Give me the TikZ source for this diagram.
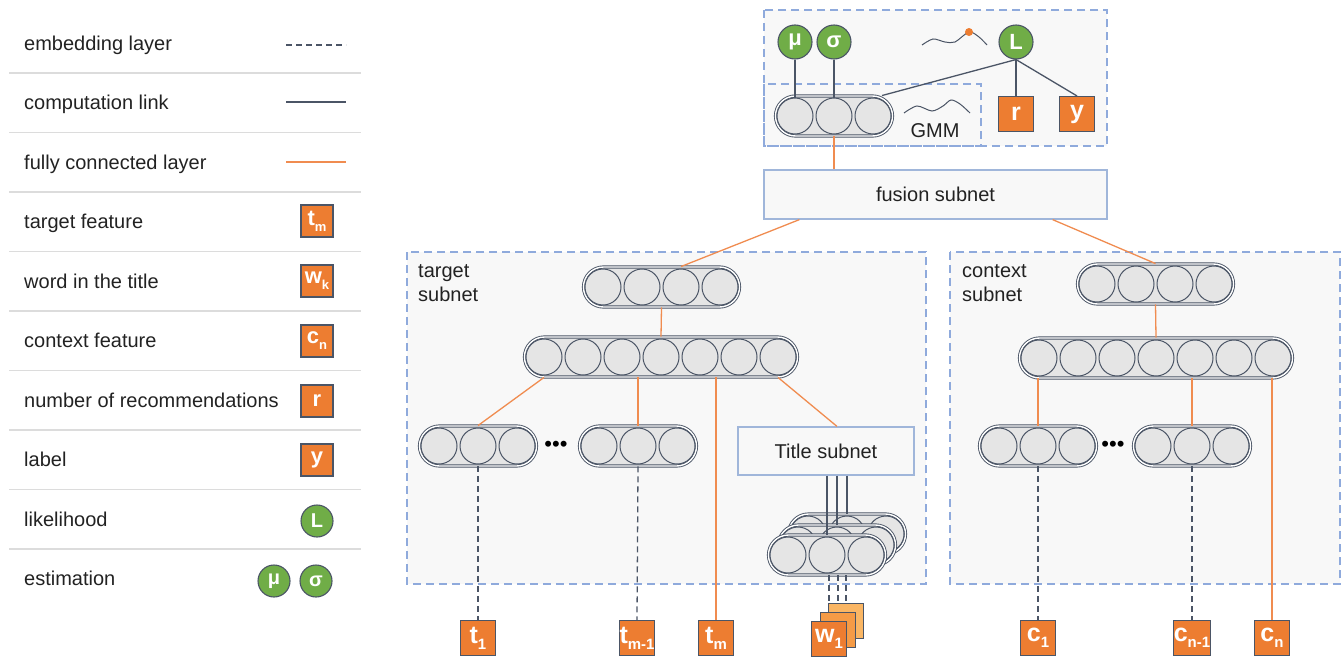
\documentclass[tikz,border=0pt]{standalone}
\usepackage{fontspec}
\setmainfont{Liberation Sans}

\definecolor{ink}{RGB}{75,85,102}
\definecolor{txt}{RGB}{34,34,34}
\definecolor{fcline}{RGB}{240,140,80}
\definecolor{orangef}{RGB}{237,125,49}
\definecolor{orangem}{RGB}{245,155,70}
\definecolor{orangeb}{RGB}{250,182,100}
\definecolor{greenf}{RGB}{112,173,71}
\definecolor{dashblue}{RGB}{143,170,220}
\definecolor{boxblue}{RGB}{160,182,218}
\definecolor{boxgray}{RGB}{248,248,248}
\definecolor{cellgray}{RGB}{229,229,229}
\definecolor{sepgray}{RGB}{220,220,220}

\tikzset{
  txtnode/.style={text=txt, font=\fontsize{20}{24}\selectfont, inner sep=0},
  region/.style={draw=dashblue, dash pattern=on 8pt off 5pt, fill=boxgray, line width=1.3pt},
  subbox/.style={rectangle, draw=boxblue, fill=boxgray, line width=1.2pt, text=txt,
    font=\fontsize{20}{24}\selectfont},
  layer/.style={rectangle, rounded corners=20pt, draw=ink, double=white,
    double distance=1.4pt, line width=0.9pt, fill=cellgray, minimum height=40pt, inner sep=0},
  unit/.style={circle, draw=ink, line width=1pt, fill=cellgray, minimum size=36pt, inner sep=0},
  feat/.style={rectangle, draw=ink, line width=1.1pt, fill=orangef, minimum size=35pt,
    inner sep=0, text=white, font=\bfseries\fontsize{25}{25}\selectfont},
  est/.style={circle, draw=ink, line width=1.1pt, fill=greenf, minimum size=34pt,
    inner sep=0, text=white, font=\bfseries\fontsize{22}{22}\selectfont},
  emb/.style={draw=ink, line width=1.3pt, dash pattern=on 6pt off 4pt},
  comp/.style={draw=ink, line width=1.3pt},
  fc/.style={draw=fcline, line width=1.3pt},
  dots/.style={text=black, font=\fontsize{22}{22}\selectfont, inner sep=0},
}

% square label: letter with lowered index
\newcommand{\feat}[3][15]{#2\raisebox{-6pt}{\fontsize{#1}{#1}\selectfont #3}}
% capsule of n units: name, n, x, y
\newcommand{\nnlayer}[4]{%
  \node[layer, minimum width={39*#2}] (#1) at (#3,#4) {};
  \foreach \i in {1,...,#2}
    \node[unit] (#1-\i) at ({#3+39*(\i-(#2+1)/2)},#4) {};
}

\begin{document}
\begin{tikzpicture}[x=1pt,y=-1pt]
        \useasboundingbox (0,0) rectangle (1341,656);

        % legend
        \foreach \k in {0,...,8}
            \draw[sepgray, line width=1.5pt] (9,{73+59.5*\k}) -- (361,{73+59.5*\k});

        \node[txtnode, anchor=base west] (lg1) at (24,50) {embedding layer};
        \node[txtnode, anchor=base west] (lg2) at (24,109.5) {computation link};
        \node[txtnode, anchor=base west] (lg3) at (24,169) {fully connected layer};
        \node[txtnode, anchor=base west] (lg4) at (24,228.5) {target feature};
        \node[txtnode, anchor=base west] (lg5) at (24,288) {word in the title};
        \node[txtnode, anchor=base west] (lg6) at (24,347.5) {context feature};
        \node[txtnode, anchor=base west] (lg7) at (24,407) {number of recommendations};
        \node[txtnode, anchor=base west] (lg8) at (24,466.5) {label};
        \node[txtnode, anchor=base west] (lg9) at (24,526) {likelihood};
        \node[txtnode, anchor=base west] (lg10) at (24,585.5) {estimation};

        \draw[emb] (286,45) -- (346,45);
        \draw[comp] (286,102) -- (346,102);
        \draw[fc] (286,162) -- (346,162);

        \node[feat, minimum size=32pt, font=\bfseries\fontsize{22}{22}\selectfont] (lgt) at (317,221) {\feat[13]{t}{m}};
        \node[feat, minimum size=32pt, font=\bfseries\fontsize{22}{22}\selectfont] (lgw) at (317,281) {\feat[13]{w}{k}};
        \node[feat, minimum size=32pt, font=\bfseries\fontsize{22}{22}\selectfont] (lgc) at (317,341) {\feat[13]{c}{n}};
        \node[feat, minimum size=32pt, font=\bfseries\fontsize{22}{22}\selectfont] (lgr) at (317,401) {r};
        \node[feat, minimum size=32pt, font=\bfseries\fontsize{22}{22}\selectfont] (lgy) at (317,460) {y};
        \node[est, minimum size=32pt, font=\bfseries\fontsize{20}{20}\selectfont] (lgL) at (317,521) {L};
        \node[est, minimum size=32pt, font=\bfseries\fontsize{20}{20}\selectfont] (lgmu) at (274,581) {μ};
        \node[est, minimum size=32pt, font=\bfseries\fontsize{20}{20}\selectfont] (lgsig) at (316,581) {σ};

        % regions
        \draw[region] (764,10) rectangle (1107,146);
        \draw[region, fill=none] (764,84) rectangle (981,146);
        \draw[region] (407,252) rectangle (926,584);
        \draw[region] (950,252) rectangle (1340,584);

        \node[txtnode, anchor=north west, align=left] (tlbl) at (418,264) {target\\subnet};
        \node[txtnode, anchor=north west, align=left] (clbl) at (962,264) {context\\subnet};

        % estimation part
        \node[est] (mu) at (795,42) {μ};
        \node[est] (sig) at (834,42) {σ};
        \node[est] (L) at (1016,42) {L};
        \node[feat] (r) at (1016,114) {r};
        \node[feat] (y) at (1077,114) {y};
        \node[txtnode, anchor=base] (gmmlbl) at (935,137) {GMM};

        \draw[ink, line width=1pt] plot[smooth] coordinates {(922,45) (933,39) (945,42) (955,42) (969,32) (979,37) (987,45)};
        \fill[orangef] (969,32) circle (4pt);
        \draw[ink, line width=1pt] plot[smooth] coordinates {(904,113) (917,106) (932,111) (943,106) (951,100) (960,104) (970,113)};

        \node[subbox, minimum width=343pt, minimum height=49pt] (fusion) at (935.5,194.5) {fusion subnet};
        \node[subbox, minimum width=176pt, minimum height=48pt] (title) at (826,451) {Title subnet};

        % layers
        \nnlayer{gmm}{3}{834}{116}
        \nnlayer{tTop}{4}{661.5}{287}
        \nnlayer{tMid}{7}{661}{357}
        \nnlayer{tL}{3}{478}{446}
        \nnlayer{tR}{3}{638}{446}
        \nnlayer{cTop}{4}{1155.5}{284}
        \nnlayer{cMid}{7}{1156}{358}
        \nnlayer{cL}{3}{1038}{446}
        \nnlayer{cR}{3}{1192}{446}
        \nnlayer{st3}{3}{847}{534}
        \nnlayer{st2}{3}{837}{545}
        \nnlayer{st1}{3}{827}{555}

        \node[dots] (tdots) at (556,446) {•••};
        \node[dots] (cdots) at (1113,446) {•••};

        % inputs
        \node[feat] (t1) at (478,638) {\feat{t}{1}};
        \node[feat] (tm1) at (637,638) {\feat{t}{m-1}};
        \node[feat] (tm) at (716,638) {\feat{t}{m}};
        \node[feat] (c1) at (1038,638) {\feat{c}{1}};
        \node[feat] (cn1) at (1192,638) {\feat{c}{n-1}};
        \node[feat] (cn) at (1272,638) {\feat{c}{n}};

        \draw[emb] (st1.south -| 846,0) -- (846,604);
        \draw[emb] (st1.south -| 838,0) -- (838,612);
        \draw[emb] (st1.south -| 829,0) -- (829,621);
        \node[feat, fill=orangeb] (w3) at (846,621) {};
        \node[feat, fill=orangem] (w2) at (838,630) {};
        \node[feat] (w1) at (829,639) {\feat{w}{1}};

        % connections
        \draw[comp] (mu) -- (gmm-1.north);
        \draw[comp] (sig) -- (gmm-2.north);
        \draw[comp] (L.south) -- ([xshift=-11pt]gmm.north east);
        \draw[comp] (L.south) -- (r.north);
        \draw[comp] (L.south) -- (y.north);

        \draw[fc] (gmm.south) -- (gmm.south |- fusion.north);
        \draw[fc] ([xshift=36pt]fusion.south west) -- (tTop-3.north |- tTop.north);
        \draw[fc] ([xshift=-55pt]fusion.south east) -- (cTop.north);

        \draw[fc] (tTop.south) -- (tMid.north);
        \draw[fc] (tMid-1.south |- tMid.south) -- (tL.north);
        \draw[fc] (tR.north |- tMid.south) -- (tR.north);
        \draw[fc] (tm.north |- tMid.south) -- (tm.north);
        \draw[fc] (tMid-7.south |- tMid.south) -- ([xshift=11pt]title.north);

        \draw[fc] (cTop.south) -- (cMid.north);
        \draw[fc] (cL.north |- cMid.south) -- (cL.north);
        \draw[fc] (cR.north |- cMid.south) -- (cR.north);
        \draw[fc] (cn.north |- cMid.south) -- (cn.north);

        \draw[comp] (title.south -| st3.north) -- (st3.north);
        \draw[comp] (title.south -| st2.north) -- (st2.north);
        \draw[comp] (title.south -| st1.north) -- (st1.north);

        \draw[emb] (tL.south) -- (t1.north);
        \draw[emb] (tR.south) -- (tm1.north);
        \draw[emb] (cL.south) -- (c1.north);
        \draw[emb] (cR.south) -- (cn1.north);

    \end{tikzpicture}
\end{document}
